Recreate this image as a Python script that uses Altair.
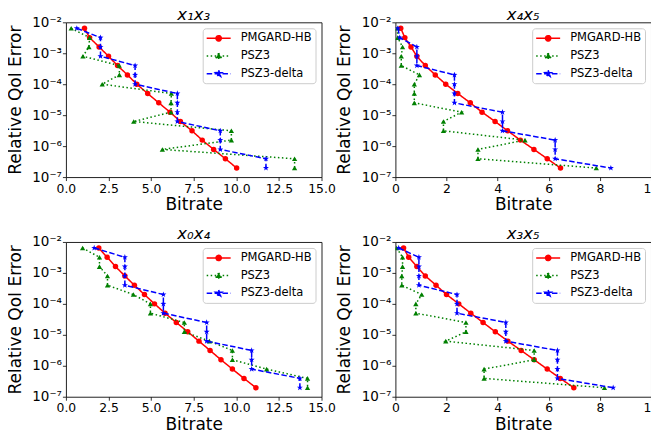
import altair as alt
import pandas as pd

# ---------------- data ----------------
errors = [6.4e-3, 3.2e-3, 1.6e-3, 8e-4, 4e-4, 2e-4, 1e-4, 5e-5, 2.5e-5,
          1.25e-5, 6.25e-6, 3.125e-6, 1.5625e-6, 7.8125e-7, 3.90625e-7, 1.953125e-7]

series_names = ["PMGARD-HB", "PSZ3", "PSZ3-delta"]
panel_titles = ["x₁x₃", "x₄x₅", "x₀x₄", "x₃x₅"]
x_max = [15, 10, 15, 10]
x_ticks_15 = [0, 2.5, 5, 7.5, 10, 12.5, 15]
x_ticks_10 = [0, 2, 4, 6, 8, 10]
y_ticks = [1e-7, 1e-6, 1e-5, 1e-4, 1e-3, 1e-2]

# panel x1x3
p1_pmgard = [1.09, 1.39, 1.95, 2.50, 3.03, 3.61, 4.16, 4.80, 5.45, 6.11, 6.72, 7.40, 8.00, 8.67, 9.36, 10.02]
p1_psz3 = [0.31, 1.39, 1.35, 1.00, 3.13, 3.14, 2.13, 6.19, 6.17, 6.17, 3.98, 9.71, 9.71, 5.66, 13.42, 13.42]
p1_delta = [0.64, 2.03, 2.03, 2.03, 4.06, 4.06, 4.06, 6.54, 6.54, 6.54, 6.54, 9.06, 9.06, 9.06, 11.74, 11.74]
# panel x4x5
p2_pmgard = [0.21, 0.37, 0.61, 0.84, 1.17, 1.56, 1.97, 2.44, 2.93, 3.39, 3.90, 4.39, 4.89, 5.42, 5.94, 6.46]
p2_psz3 = [0.08, 0.09, 0.28, 0.23, 0.23, 0.94, 0.74, 0.74, 0.74, 2.59, 1.88, 1.88, 5.07, 3.23, 3.23, 7.86]
p2_delta = [0.10, 0.17, 0.84, 0.84, 0.84, 2.31, 2.31, 2.31, 2.31, 4.19, 4.19, 4.19, 6.25, 6.25, 6.25, 8.43]
# panel x0x4
p3_pmgard = [1.93, 2.42, 2.91, 3.46, 4.02, 4.61, 5.20, 5.82, 6.48, 7.15, 7.81, 8.46, 9.10, 9.77, 10.45, 11.15]
p3_psz3 = [0.98, 1.97, 1.97, 2.44, 2.44, 3.96, 4.96, 4.96, 6.95, 6.95, 8.42, 9.77, 9.77, 11.78, 14.18, 14.18]
p3_delta = [1.66, 3.46, 3.46, 3.46, 3.46, 5.72, 5.72, 5.72, 8.26, 8.26, 8.26, 10.90, 10.90, 10.90, 13.73, 13.73]
# panel x3x5
p4_pmgard = [0.32, 0.52, 0.84, 1.17, 1.59, 2.00, 2.48, 2.95, 3.43, 3.91, 4.40, 4.92, 5.43, 5.94, 6.45, 6.98]
p4_psz3 = [0.05, 0.28, 0.28, 0.25, 0.25, 1.03, 0.80, 0.80, 2.76, 2.76, 1.97, 5.43, 5.43, 3.47, 3.47, 8.18]
p4_delta = [0.13, 0.92, 0.92, 0.92, 0.92, 2.41, 2.41, 2.41, 4.32, 4.32, 4.32, 6.34, 6.34, 6.34, 6.34, 8.52]

panel_data = [
    [p1_pmgard, p1_psz3, p1_delta],
    [p2_pmgard, p2_psz3, p2_delta],
    [p3_pmgard, p3_psz3, p3_delta],
    [p4_pmgard, p4_psz3, p4_delta],
]

rows = []
for k, series_list in enumerate(panel_data):
    for s, xs in zip(series_names, series_list):
        for i, (xv, ev) in enumerate(zip(xs, errors)):
            rows.append({"panel": k, "series": s, "idx": i, "bitrate": xv, "error": ev})
df = pd.DataFrame(rows)

# ---------------- styles ----------------
colors = ["#ff0000", "#008000", "#0000ff"]
dashes = [[1, 0], [1.5, 2.5], [5.5, 2.4]]
STAR = ("M0,-1L0.235,-0.324L0.951,-0.309L0.38,0.124L0.588,0.809L0,0.4"
        "L-0.588,0.809L-0.38,0.124L-0.951,-0.309L-0.235,-0.324Z")
marker_shapes = ["circle", "triangle-up", STAR]
marker_sizes = [30, 28, 40]
legend_paths = [
    "M-1,0H3M1.44,0A0.44,0.44,0,1,1,0.56,0A0.44,0.44,0,1,1,1.44,0Z",
    "M-1,0H3M1,-0.45L1.5,0.38L0.5,0.38Z",
    "M-1,0H3M1,-0.55L1.129,-0.178L1.523,-0.17L1.209,0.068L1.323,0.445L1,0.22"
    "L0.677,0.445L0.791,0.068L0.477,-0.17L0.871,-0.178Z",
]

FONT = "DejaVu Sans"
Y_LABEL_EXPR = ("'10' + ['⁻⁷','⁻⁶','⁻⁵','⁻⁴','⁻³','⁻²']"
                "[round(log(datum.value)/LN10) + 7]")


def make_panel(k):
    d = df[df.panel == k]
    if x_max[k] == 15:
        xaxis = alt.Axis(values=x_ticks_15, format=".1f", title="Bitrate")
    else:
        xaxis = alt.Axis(values=x_ticks_10, format="d", title="Bitrate")
    xenc = alt.X("bitrate:Q",
                 scale=alt.Scale(domain=[0, x_max[k]], nice=False, zero=False),
                 axis=xaxis)
    yenc = alt.Y("error:Q",
                 scale=alt.Scale(type="log", domain=[1e-7, 1e-2], nice=False),
                 axis=alt.Axis(values=y_ticks, labelExpr=Y_LABEL_EXPR,
                               title="Relative QoI Error"))
    layers = []
    for j, s in enumerate(series_names):
        ds = d[d.series == s]
        base = alt.Chart(ds).encode(x=xenc, y=yenc, order="idx:Q")
        layers.append(base.mark_line(color=colors[j], strokeDash=dashes[j],
                                     strokeWidth=1.5, clip=True))
        layers.append(base.mark_point(filled=True, color=colors[j],
                                      shape=marker_shapes[j], size=marker_sizes[j],
                                      opacity=1, clip=True))
    leg = alt.Legend(orient="top-right", offset=6, title=None,
                     symbolSize=144, symbolStrokeWidth=1.5, symbolOpacity=1,
                     labelFont=FONT, labelFontSize=11.5, labelColor="black",
                     labelOffset=21, padding=3, rowPadding=4.7,
                     strokeColor="#cccccc", fillColor="rgba(255,255,255,0.85)",
                     cornerRadius=3)
    legend_layer = alt.Chart(d).transform_filter("false").mark_point(
        filled=True, opacity=1, strokeWidth=1.5
    ).encode(
        color=alt.Color("series:N", scale=alt.Scale(domain=series_names, range=colors), legend=leg),
        stroke=alt.Stroke("series:N", scale=alt.Scale(domain=series_names, range=colors), legend=leg),
        shape=alt.Shape("series:N", scale=alt.Scale(domain=series_names, range=legend_paths), legend=leg),
        strokeDash=alt.StrokeDash("series:N", scale=alt.Scale(domain=series_names, range=dashes), legend=leg),
    )
    layers.append(legend_layer)
    return alt.layer(*layers).properties(
        width=256, height=155,
        title=alt.TitleParams(panel_titles[k], font=FONT, fontSize=16.5,
                              fontStyle="italic", fontWeight="normal",
                              color="black", offset=-8, anchor="middle",
                              frame="group"),
    )


panels = [make_panel(k) for k in range(4)]

chart = alt.concat(
    *panels, columns=2, spacing={"row": 65, "column": 74}, bounds="flush"
).resolve_scale(
    color="independent", stroke="independent", shape="independent",
    strokeDash="independent", x="independent", y="independent"
).resolve_legend(
    color="independent", stroke="independent", shape="independent",
    strokeDash="independent"
).properties(
    padding={"left": -3, "top": -2, "right": -9, "bottom": -3}
).configure(
    font=FONT,
).configure_view(
    stroke="#222222", strokeWidth=1
).configure_axis(
    domain=False, grid=False, labelFlush=False,
    labelFont=FONT, labelColor="black",
    titleFont=FONT, titleFontSize=17, titleFontWeight="normal", titleColor="black",
    tickColor="black", tickSize=3.5, tickWidth=0.8,
).configure_axisX(
    labelFontSize=12.4, labelPadding=1.5, titlePadding=2.5,
).configure_axisY(
    labelFontSize=13.5, labelPadding=1, titlePadding=7.5,
)

chart.save("out.html", embed_options={"renderer": "svg", "actions": False})
